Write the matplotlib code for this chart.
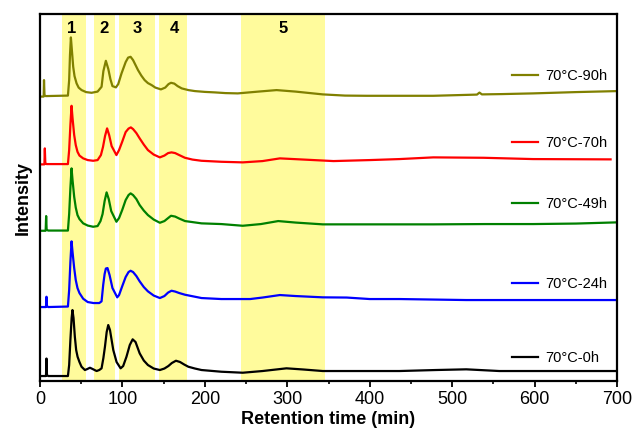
import matplotlib
matplotlib.use("Agg")
import matplotlib.pyplot as plt
from matplotlib.legend import Legend
from matplotlib.ticker import MultipleLocator

plt.rcParams['font.family'] = ['Liberation Sans', 'DejaVu Sans']

# retention time (min) / intensity (a.u., curves already stacked)
x_90h = [0, 4.6, 5.0, 5.6, 7, 34, 35.5, 36.5, 37.6, 38.8, 40.4, 42, 44.5, 47, 50.6, 56, 62.7, 70,
         74.8, 77, 80, 83, 85.5, 88, 92.2, 95, 99, 104, 107, 110, 113, 116, 119, 123, 127, 131,
         135.5, 140, 146.8, 152, 156, 159, 163, 167, 172, 180, 188, 200, 212, 225, 240, 265, 287,
         310, 343, 370, 396, 440, 477, 530, 533, 536, 560, 598, 650, 700]
y_90h = [284.5, 284.5, 301, 286, 285, 285.5, 301, 326, 343.7, 331, 314.3, 305, 297.7, 293.5, 291,
         289, 288.3, 289.5, 294.3, 310, 320.3, 312, 302, 295, 293.7, 297, 307.7, 319, 323.5, 324.3,
         321, 316, 311, 305.5, 301, 298, 296, 293.5, 291.7, 293.5, 297, 298.3, 297.5, 295, 292.7,
         291, 290, 289.2, 288.7, 288, 287.7, 289.5, 291, 289.5, 286.7, 285.5, 285.3, 285.3, 285.3,
         286.5, 288.5, 286.7, 287, 287.7, 289, 290]

x_70h = [0, 5.5, 6, 6.6, 8, 34, 35.5, 37, 38.4, 39.6, 41.6, 43.5, 45.6, 48, 52.5, 58, 64.6, 70, 74,
         76.5, 79, 81.5, 84, 87, 92.8, 96, 99.8, 104, 107.5, 110.3, 113, 117, 121, 126, 131, 138,
         145.5, 151, 155.5, 159.6, 164, 169, 175.9, 185, 195.9, 220, 246, 270, 291, 320, 356, 400,
         436, 477, 538, 598, 692]
y_70h = [216.7, 216.7, 232.7, 218, 217, 217, 231, 256, 275.3, 263, 246, 236, 229.3, 225.5, 222.7,
         221, 220.3, 221, 226, 234, 245, 252.7, 246, 235, 226, 231, 239.3, 249, 252.5, 253.7, 252,
         248, 242.7, 236.5, 231, 226.5, 223.7, 225.5, 228, 228.7, 228, 226, 223.3, 221.5, 220.3,
         219.3, 218.7, 220, 222.7, 221.5, 220, 221, 222, 223.7, 223.3, 222, 221.7]

x_49h = [0, 7, 7.6, 8.2, 10, 34, 35.5, 37, 38.4, 39.6, 41.6, 43.5, 45.6, 48, 52.5, 58, 64.6, 70,
         73.5, 76, 78.5, 80.9, 83.5, 86.5, 92.8, 96, 99.8, 104, 107.5, 110, 113, 117, 121, 126, 131,
         138, 145.5, 151, 155.5, 159, 164, 169, 176, 196, 220, 246, 268, 289, 310, 343, 400, 477,
         540, 598, 650, 700]
y_49h = [150.3, 150.3, 165, 151.5, 150.5, 150.5, 167, 193, 212.7, 201, 184.3, 173.5, 166, 162,
         157.7, 155.5, 154.3, 155, 160, 167, 180, 188.7, 182, 170, 159.3, 163, 171, 181, 186, 187.7,
         186, 182, 176, 170.5, 166, 161.5, 158.3, 160, 163, 165.3, 164.5, 162.5, 160, 157.7, 157,
         155.3, 157, 160, 158.5, 156.7, 156.7, 156.7, 157, 157, 157.5, 158.7]

x_24h = [0, 7.4, 8, 8.6, 10, 34, 35.5, 37, 38.4, 39.6, 41.6, 43.5, 45.6, 48, 52.5, 58, 65, 72,
         74.8, 76.8, 78.5, 80, 82, 84.5, 88, 93.8, 96, 99.8, 104, 107.5, 110, 113, 117, 121, 126,
         131, 138, 145.5, 151, 155.5, 159.6, 164, 169, 176, 196, 220, 240, 255, 270, 291, 310, 343,
         372, 400, 436, 517, 600, 700]
y_24h = [74, 74, 84.3, 75, 74, 74.5, 91, 119, 139.7, 129, 113, 101, 93, 88, 82.3, 79, 78, 78, 79.7,
         96.3, 107, 112.5, 113, 106, 93, 83.7, 86, 94.7, 104, 109, 110.3, 109, 105, 99.7, 94, 89.7,
         85.5, 83, 85, 88.5, 90.3, 89.5, 88, 86.3, 83, 82, 82, 82, 83.5, 86, 85, 83.7, 83.5, 82, 82,
         81, 81, 81]

x_0h = [0, 7.4, 8, 8.6, 10, 34, 35.5, 37, 38.5, 39.5, 40.8, 42.4, 44, 45.7, 48, 50.5, 54.6, 57.5,
        60.7, 64, 68.8, 72, 74.8, 77, 78.9, 81, 82.9, 85, 89, 93, 97.9, 101, 105, 109, 112.5, 116,
        121, 126, 131, 138, 145.5, 151, 155.8, 160, 165, 170, 175, 180, 188, 196, 220, 246, 270,
        299, 320, 343, 400, 436, 480, 517, 557, 620, 700]
y_0h = [5, 5, 22.5, 6, 5, 5, 16, 41, 63, 71, 63, 44.3, 31, 24.3, 19, 14.3, 11, 12, 13.3, 12, 10,
        11, 12.7, 23, 34.3, 49, 56, 51, 31, 19, 12.7, 15, 24.3, 36, 41.7, 39, 27.7, 20.5, 16, 12.5,
        11, 12.5, 15, 18, 20.3, 19, 16.5, 14.3, 12.5, 11, 9.3, 8.3, 10, 12.7, 11.5, 10, 10, 10, 11,
        11.7, 10, 10, 10]

labels = ['70°C-0h', '70°C-24h', '70°C-49h', '70°C-70h', '70°C-90h']
colors = ['black', '#0000ff', '#008000', '#ff0000', '#808000']
xs = [x_0h, x_24h, x_49h, x_70h, x_90h]
ys = [y_0h, y_24h, y_49h, y_70h, y_90h]
legend_y = [0.063, 0.264, 0.482, 0.649, 0.831]

# shaded fractions (min)
band_names = ['1', '2', '3', '4', '5']
band_start = [27, 65.5, 96, 145, 244]
band_end = [56.5, 91, 139.5, 178.5, 345.5]
band_label_x = [38, 78, 118, 163, 295]

fig = plt.figure(figsize=(6.33, 4.41), dpi=100)
ax = fig.add_axes([0.063, 0.136, 0.912, 0.832])

for s, e in zip(band_start, band_end):
    ax.axvspan(s, e, color='#fffb9c', lw=0, zorder=0)
for name, bx in zip(band_names, band_label_x):
    ax.text(bx, 353, name, ha='center', va='center', fontsize=12, fontweight='bold')

for x, y, c, lab, ly in zip(xs, ys, colors, labels, legend_y):
    line, = ax.plot(x, y, color=c, lw=1.6, zorder=2)
    # one small legend per curve, sitting just above its tail
    leg = Legend(ax, [line], [lab], loc='center left', bbox_to_anchor=(0.8175, ly),
                 frameon=False, fontsize=10.5, handlelength=1.8, handletextpad=0.5,
                 borderpad=0, borderaxespad=0)
    ax.add_artist(leg)

ax.set_xlim(0, 700)
ax.set_ylim(0, 367)
ax.xaxis.set_major_locator(MultipleLocator(100))
ax.xaxis.set_minor_locator(MultipleLocator(50))
ax.set_yticks([])
ax.tick_params(axis='x', which='major', length=4, width=1.3, labelsize=13, pad=3)
ax.tick_params(axis='x', which='minor', length=2.5, width=1.2)
for sp in ax.spines.values():
    sp.set_linewidth(1.6)

ax.set_xlabel('Retention time (min)', fontsize=13, fontweight='bold', labelpad=2)
ax.set_ylabel('Intensity', fontsize=13, fontweight='bold', labelpad=6)

fig.savefig('out.png', dpi=100)
